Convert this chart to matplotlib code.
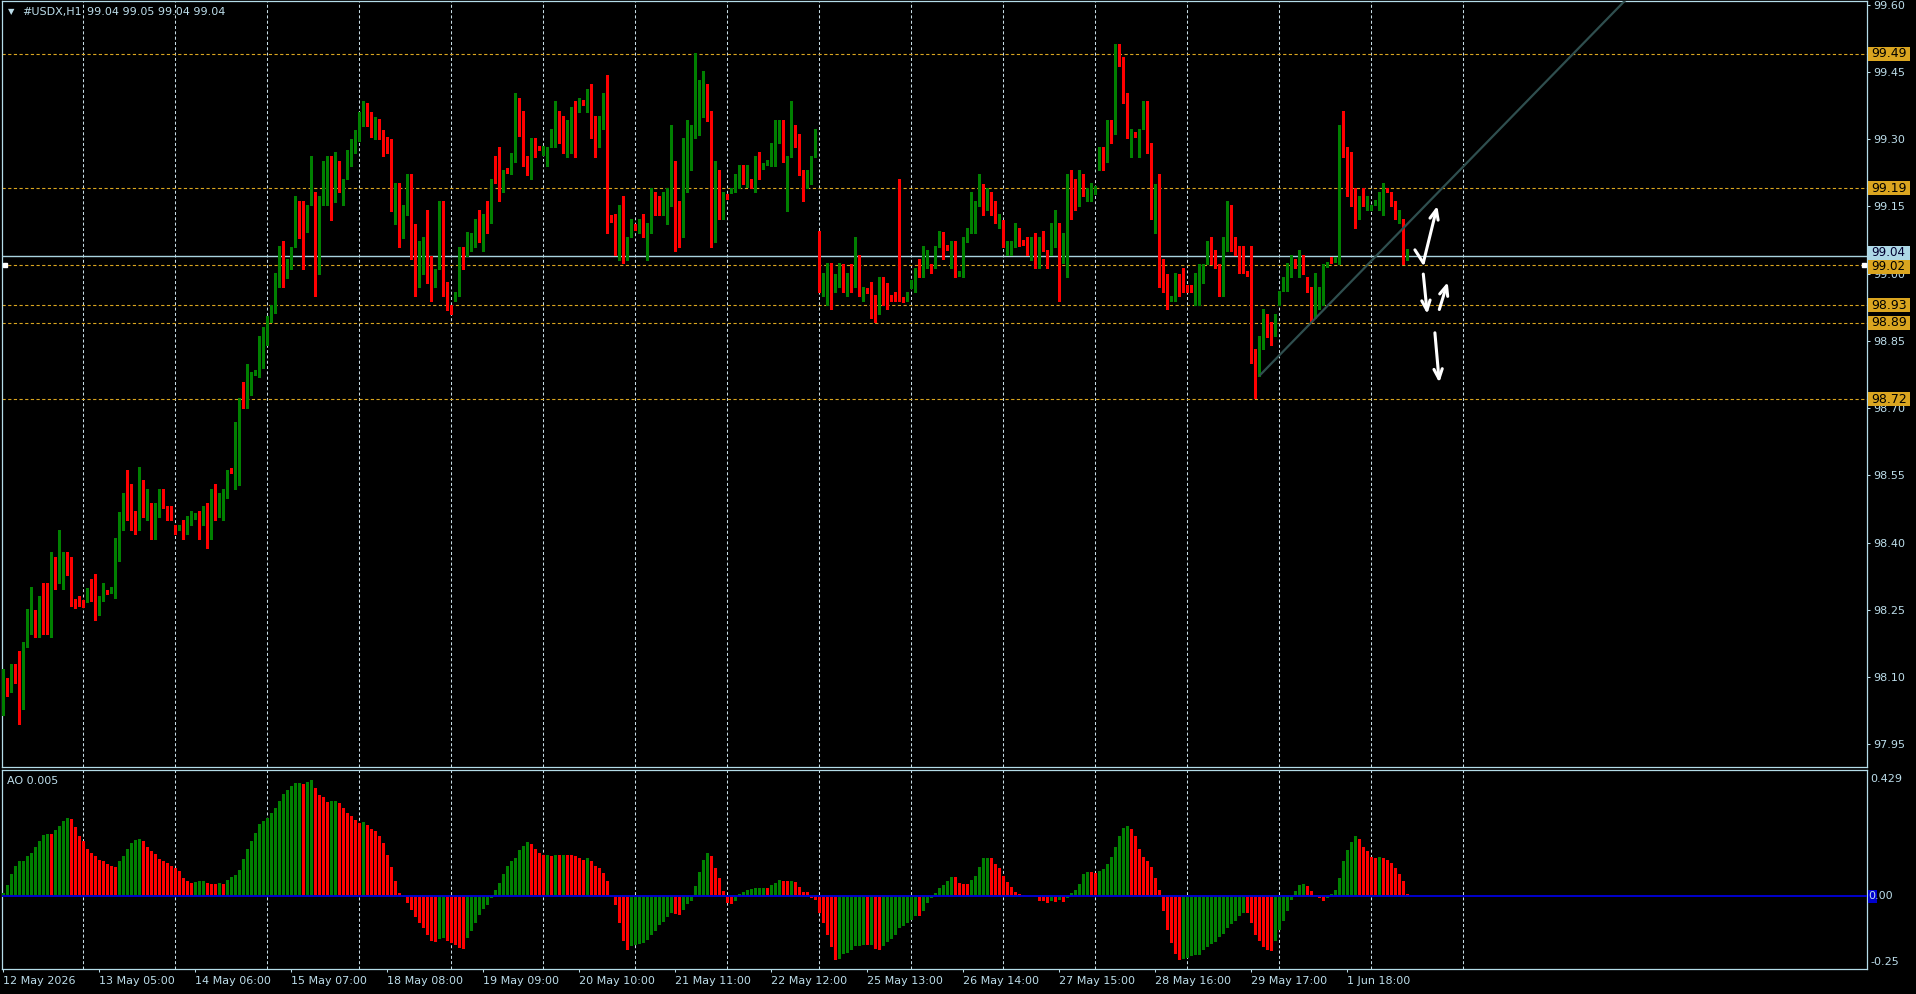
import matplotlib
matplotlib.use('Agg')
import matplotlib.pyplot as plt
import matplotlib.transforms as mtransforms
from matplotlib.patches import Rectangle
import numpy as np

plt.rcParams['font.family'] = ['DejaVu Sans']

# ---------------- data (hourly #USDX bars) ----------------
opens = [
    98.036, 98.088, 98.078, 98.129, 98.119, 98.057, 98.189, 98.218, 98.249, 98.229,
    98.269, 98.249, 98.210, 98.349, 98.317, 98.346, 98.368, 98.340, 98.269, 98.269,
    98.269, 98.277, 98.291, 98.269, 98.248, 98.278, 98.291, 98.292, 98.298, 98.400,
    98.478, 98.501, 98.489, 98.459, 98.439, 98.530, 98.478, 98.481, 98.468, 98.468,
    98.510, 98.481, 98.481, 98.440, 98.429, 98.429, 98.429, 98.450, 98.460, 98.459,
    98.450, 98.470, 98.408, 98.501, 98.468, 98.489, 98.510, 98.561, 98.561, 98.619,
    98.722, 98.720, 98.740, 98.780, 98.780, 98.790, 98.850, 98.900, 98.930, 98.970,
    99.059, 98.999, 99.020, 99.071, 99.162, 99.142, 99.092, 99.160, 99.172, 99.011,
    99.160, 99.200, 99.230, 99.172, 99.222, 99.201, 99.220, 99.250, 99.285, 99.305,
    99.340, 99.370, 99.345, 99.318, 99.340, 99.310, 99.300, 99.290, 99.160, 99.172,
    99.079, 99.139, 99.211, 99.100, 98.991, 99.011, 99.082, 99.011, 98.991, 99.020,
    99.152, 98.981, 98.930, 98.939, 98.949, 99.059, 99.051, 99.062, 99.080, 99.101,
    99.080, 99.133, 99.120, 99.222, 99.222, 99.200, 99.231, 99.231, 99.261, 99.363,
    99.322, 99.242, 99.220, 99.292, 99.280, 99.270, 99.241, 99.291, 99.329, 99.343,
    99.343, 99.282, 99.329, 99.363, 99.361, 99.382, 99.381, 99.423, 99.312, 99.291,
    99.350, 99.384, 99.125, 99.121, 99.101, 99.153, 99.051, 99.091, 99.105, 99.091,
    99.121, 99.071, 99.101, 99.173, 99.153, 99.131, 99.151, 99.151, 99.251, 99.153,
    99.111, 99.240, 99.291, 99.329, 99.350, 99.350, 99.384, 99.352, 99.101, 99.222,
    99.131, 99.172, 99.185, 99.181, 99.200, 99.231, 99.210, 99.210, 99.200, 99.251,
    99.240, 99.248, 99.250, 99.261, 99.309, 99.332, 99.250, 99.270, 99.322, 99.302,
    99.210, 99.190, 99.200, 99.270, 99.094, 98.971, 98.999, 98.999, 98.980, 98.992,
    99.021, 98.960, 98.999, 98.992, 99.021, 98.940, 98.962, 98.971, 98.940, 98.910,
    98.980, 98.971, 98.946, 98.951, 98.951, 98.942, 98.940, 98.971, 98.960, 98.999,
    98.999, 99.021, 99.021, 99.021, 99.071, 99.092, 99.058, 99.023, 99.062, 99.000,
    98.999, 99.081, 99.101, 99.142, 99.161, 99.190, 99.162, 99.173, 99.153, 99.112,
    99.115, 99.053, 99.062, 99.060, 99.101, 99.070, 99.073, 99.042, 99.073, 99.032,
    99.091, 99.053, 99.051, 99.081, 99.112, 99.051, 99.051, 99.222, 99.181, 99.161,
    99.201, 99.172, 99.172, 99.181, 99.240, 99.262, 99.261, 99.332, 99.322, 99.503,
    99.463, 99.391, 99.302, 99.310, 99.291, 99.322, 99.371, 99.271, 99.131, 99.201,
    99.021, 98.999, 98.940, 98.960, 98.999, 98.999, 98.971, 98.971, 98.951, 98.980,
    98.999, 99.021, 99.073, 99.053, 99.021, 98.960, 99.051, 99.153, 99.073, 99.042,
    99.012, 99.000, 98.999, 98.831, 98.772, 98.831, 98.911, 98.870, 98.870, 98.929,
    98.971, 98.992, 98.999, 99.021, 99.023, 99.032, 98.992, 98.971, 98.900, 98.951,
    98.940, 99.020, 99.030, 99.032, 99.032, 99.332, 99.261, 99.201, 99.162, 99.131,
    99.181, 99.151, 99.142, 99.158, 99.151, 99.172, 99.190, 99.173, 99.162, 99.121,
    99.121, 99.035,
]
highs = [
    98.119, 98.098, 98.129, 98.129, 98.158, 98.178, 98.251, 98.301, 98.249, 98.280,
    98.311, 98.311, 98.379, 98.368, 98.429, 98.379, 98.379, 98.368, 98.275, 98.280,
    98.272, 98.299, 98.319, 98.330, 98.280, 98.311, 98.295, 98.300, 98.410, 98.468,
    98.510, 98.561, 98.530, 98.470, 98.569, 98.540, 98.520, 98.489, 98.489, 98.520,
    98.520, 98.481, 98.481, 98.440, 98.440, 98.450, 98.459, 98.470, 98.466, 98.470,
    98.481, 98.489, 98.520, 98.530, 98.510, 98.520, 98.561, 98.566, 98.668, 98.722,
    98.759, 98.799, 98.780, 98.786, 98.860, 98.881, 98.905, 98.930, 99.001, 99.061,
    99.073, 99.032, 99.059, 99.172, 99.162, 99.162, 99.152, 99.263, 99.181, 99.172,
    99.251, 99.263, 99.263, 99.272, 99.251, 99.211, 99.276, 99.300, 99.320, 99.360,
    99.385, 99.380, 99.360, 99.350, 99.345, 99.320, 99.305, 99.300, 99.201, 99.201,
    99.152, 99.222, 99.222, 99.110, 99.073, 99.082, 99.142, 99.040, 99.011, 99.162,
    99.162, 98.981, 98.930, 98.960, 99.059, 99.059, 99.092, 99.090, 99.121, 99.142,
    99.133, 99.161, 99.210, 99.262, 99.282, 99.231, 99.236, 99.268, 99.402, 99.391,
    99.363, 99.262, 99.302, 99.302, 99.285, 99.285, 99.282, 99.322, 99.384, 99.363,
    99.352, 99.343, 99.371, 99.384, 99.391, 99.388, 99.411, 99.423, 99.352, 99.352,
    99.402, 99.443, 99.130, 99.133, 99.153, 99.173, 99.081, 99.121, 99.110, 99.121,
    99.133, 99.112, 99.190, 99.181, 99.173, 99.181, 99.190, 99.332, 99.251, 99.162,
    99.302, 99.343, 99.332, 99.492, 99.432, 99.452, 99.423, 99.363, 99.251, 99.231,
    99.181, 99.178, 99.192, 99.222, 99.242, 99.242, 99.242, 99.210, 99.262, 99.272,
    99.246, 99.254, 99.291, 99.343, 99.343, 99.343, 99.262, 99.384, 99.332, 99.312,
    99.231, 99.231, 99.262, 99.322, 99.094, 99.001, 99.023, 99.023, 98.999, 99.023,
    99.021, 99.001, 99.021, 99.081, 99.042, 98.971, 98.968, 98.982, 98.952, 98.992,
    98.992, 98.980, 98.952, 98.960, 99.210, 98.948, 98.960, 98.985, 99.012, 99.032,
    99.062, 99.053, 99.021, 99.062, 99.094, 99.092, 99.064, 99.073, 99.073, 99.006,
    99.081, 99.101, 99.181, 99.162, 99.222, 99.200, 99.190, 99.181, 99.162, 99.133,
    99.120, 99.073, 99.073, 99.112, 99.101, 99.076, 99.081, 99.081, 99.091, 99.081,
    99.094, 99.053, 99.112, 99.142, 99.112, 99.091, 99.222, 99.231, 99.210, 99.231,
    99.222, 99.190, 99.201, 99.195, 99.282, 99.282, 99.343, 99.343, 99.512, 99.512,
    99.483, 99.402, 99.322, 99.316, 99.322, 99.384, 99.384, 99.291, 99.200, 99.222,
    99.032, 98.999, 98.951, 99.001, 98.999, 99.012, 98.975, 98.975, 99.001, 99.021,
    99.021, 99.073, 99.081, 99.053, 99.021, 99.081, 99.162, 99.153, 99.081, 99.062,
    99.062, 99.006, 99.062, 98.831, 98.861, 98.920, 98.911, 98.891, 98.911, 98.961,
    98.992, 99.023, 99.042, 99.032, 99.053, 99.042, 98.992, 98.971, 99.001, 98.971,
    99.021, 99.026, 99.036, 99.038, 99.332, 99.363, 99.282, 99.271, 99.190, 99.173,
    99.190, 99.173, 99.153, 99.164, 99.181, 99.201, 99.190, 99.181, 99.162, 99.142,
    99.121, 99.055,
]
lows = [
    98.016, 98.057, 98.068, 98.088, 97.996, 98.028, 98.168, 98.197, 98.189, 98.189,
    98.197, 98.197, 98.189, 98.297, 98.309, 98.297, 98.327, 98.258, 98.255, 98.258,
    98.256, 98.268, 98.269, 98.228, 98.239, 98.269, 98.285, 98.288, 98.277, 98.358,
    98.429, 98.450, 98.429, 98.419, 98.429, 98.458, 98.450, 98.408, 98.408, 98.458,
    98.478, 98.450, 98.450, 98.419, 98.429, 98.408, 98.419, 98.440, 98.452, 98.408,
    98.440, 98.387, 98.408, 98.450, 98.458, 98.450, 98.499, 98.555, 98.520, 98.528,
    98.701, 98.701, 98.730, 98.774, 98.770, 98.790, 98.840, 98.891, 98.912, 98.970,
    98.970, 98.991, 99.011, 99.059, 99.079, 99.011, 99.092, 99.152, 98.949, 98.999,
    99.152, 99.152, 99.120, 99.160, 99.181, 99.152, 99.210, 99.240, 99.270, 99.295,
    99.330, 99.330, 99.305, 99.300, 99.300, 99.262, 99.268, 99.140, 99.110, 99.059,
    99.079, 99.131, 99.032, 98.949, 98.970, 98.999, 98.980, 98.939, 98.970, 99.011,
    98.949, 98.919, 98.911, 98.939, 98.949, 99.011, 99.040, 99.050, 99.060, 99.071,
    99.051, 99.091, 99.112, 99.201, 99.161, 99.181, 99.225, 99.222, 99.250, 99.307,
    99.240, 99.220, 99.210, 99.261, 99.275, 99.265, 99.241, 99.282, 99.282, 99.291,
    99.270, 99.261, 99.270, 99.261, 99.361, 99.376, 99.361, 99.302, 99.261, 99.282,
    99.322, 99.091, 99.115, 99.041, 99.030, 99.023, 99.030, 99.081, 99.098, 99.091,
    99.081, 99.030, 99.091, 99.131, 99.131, 99.131, 99.111, 99.151, 99.051, 99.060,
    99.081, 99.181, 99.231, 99.302, 99.309, 99.350, 99.341, 99.060, 99.071, 99.121,
    99.121, 99.166, 99.180, 99.181, 99.190, 99.200, 99.194, 99.190, 99.181, 99.210,
    99.234, 99.242, 99.240, 99.240, 99.291, 99.250, 99.140, 99.261, 99.282, 99.220,
    99.161, 99.190, 99.200, 99.261, 98.958, 98.950, 98.929, 98.920, 98.960, 98.971,
    98.960, 98.950, 98.960, 98.971, 98.950, 98.940, 98.956, 98.900, 98.891, 98.910,
    98.929, 98.920, 98.940, 98.940, 98.940, 98.936, 98.940, 98.968, 98.960, 98.992,
    98.992, 99.012, 99.001, 99.012, 99.060, 99.032, 99.052, 99.012, 98.992, 98.994,
    98.992, 99.071, 99.091, 99.091, 99.151, 99.131, 99.142, 99.131, 99.112, 99.101,
    99.060, 99.042, 99.042, 99.060, 99.062, 99.064, 99.042, 99.030, 99.012, 99.012,
    99.051, 99.012, 99.042, 99.060, 98.940, 99.023, 98.992, 99.121, 99.142, 99.151,
    99.172, 99.161, 99.161, 99.178, 99.231, 99.231, 99.250, 99.291, 99.312, 99.462,
    99.381, 99.302, 99.261, 99.304, 99.261, 99.322, 99.270, 99.121, 99.091, 98.971,
    98.960, 98.920, 98.940, 98.940, 98.951, 98.960, 98.958, 98.958, 98.929, 98.929,
    98.980, 99.021, 99.021, 99.012, 98.951, 98.951, 99.051, 99.051, 99.042, 99.001,
    99.001, 98.994, 98.800, 98.722, 98.772, 98.831, 98.859, 98.841, 98.861, 98.929,
    98.961, 98.961, 98.992, 99.012, 98.992, 98.999, 98.960, 98.891, 98.900, 98.920,
    98.929, 99.014, 99.024, 99.026, 99.021, 99.261, 99.172, 99.151, 99.101, 99.121,
    99.151, 99.142, 99.142, 99.152, 99.142, 99.131, 99.181, 99.151, 99.121, 99.112,
    99.021, 99.030,
]
closes = [
    98.078, 98.068, 98.119, 98.109, 98.068, 98.178, 98.230, 98.239, 98.218, 98.259,
    98.239, 98.218, 98.360, 98.309, 98.340, 98.379, 98.327, 98.269, 98.262, 98.258,
    98.258, 98.299, 98.278, 98.258, 98.269, 98.291, 98.290, 98.296, 98.389, 98.468,
    98.489, 98.478, 98.450, 98.447, 98.540, 98.468, 98.489, 98.459, 98.481, 98.520,
    98.489, 98.468, 98.450, 98.419, 98.440, 98.419, 98.459, 98.459, 98.462, 98.440,
    98.481, 98.419, 98.510, 98.459, 98.501, 98.501, 98.561, 98.560, 98.611, 98.710,
    98.707, 98.751, 98.780, 98.782, 98.840, 98.850, 98.900, 98.920, 98.981, 99.053,
    99.011, 99.011, 99.059, 99.172, 99.131, 99.100, 99.152, 99.181, 98.999, 99.152,
    99.191, 99.241, 99.181, 99.230, 99.189, 99.211, 99.251, 99.285, 99.310, 99.345,
    99.370, 99.345, 99.315, 99.340, 99.310, 99.300, 99.272, 99.152, 99.181, 99.092,
    99.152, 99.222, 99.092, 98.999, 99.020, 99.071, 99.020, 98.999, 99.011, 99.162,
    98.991, 98.949, 98.919, 98.960, 99.053, 99.040, 99.059, 99.078, 99.114, 99.071,
    99.121, 99.112, 99.210, 99.210, 99.189, 99.231, 99.229, 99.251, 99.371, 99.309,
    99.250, 99.230, 99.302, 99.282, 99.279, 99.282, 99.282, 99.322, 99.352, 99.329,
    99.291, 99.343, 99.352, 99.350, 99.384, 99.380, 99.411, 99.322, 99.302, 99.343,
    99.391, 99.140, 99.122, 99.091, 99.142, 99.060, 99.081, 99.112, 99.102, 99.112,
    99.081, 99.112, 99.181, 99.161, 99.140, 99.142, 99.162, 99.242, 99.140, 99.101,
    99.302, 99.302, 99.322, 99.363, 99.363, 99.391, 99.341, 99.112, 99.231, 99.140,
    99.173, 99.170, 99.188, 99.211, 99.242, 99.220, 99.222, 99.190, 99.242, 99.240,
    99.242, 99.250, 99.272, 99.322, 99.322, 99.261, 99.262, 99.312, 99.291, 99.220,
    99.200, 99.210, 99.262, 99.291, 98.978, 98.993, 99.012, 98.992, 98.999, 99.012,
    98.971, 98.992, 98.980, 99.012, 98.950, 98.971, 98.960, 98.950, 98.920, 98.992,
    98.960, 98.950, 98.944, 98.940, 98.940, 98.940, 98.951, 98.981, 99.012, 98.992,
    99.032, 99.032, 99.012, 99.062, 99.081, 99.060, 99.056, 99.053, 99.001, 99.002,
    99.073, 99.094, 99.133, 99.153, 99.201, 99.172, 99.181, 99.142, 99.121, 99.121,
    99.070, 99.073, 99.073, 99.112, 99.071, 99.068, 99.053, 99.081, 99.042, 99.081,
    99.060, 99.042, 99.091, 99.121, 99.051, 99.062, 99.210, 99.173, 99.153, 99.190,
    99.181, 99.181, 99.201, 99.190, 99.271, 99.251, 99.343, 99.309, 99.512, 99.471,
    99.402, 99.309, 99.312, 99.308, 99.312, 99.384, 99.282, 99.140, 99.192, 99.030,
    99.012, 98.929, 98.951, 98.992, 98.992, 98.980, 98.960, 98.960, 98.992, 99.012,
    99.012, 99.062, 99.053, 99.032, 98.951, 99.042, 99.142, 99.060, 99.051, 99.001,
    99.001, 98.998, 98.818, 98.779, 98.821, 98.900, 98.880, 98.859, 98.911, 98.961,
    98.980, 99.012, 99.032, 99.012, 99.042, 98.999, 98.980, 98.891, 98.961, 98.961,
    99.012, 99.022, 99.030, 99.034, 99.322, 99.270, 99.210, 99.151, 99.121, 99.173,
    99.161, 99.173, 99.153, 99.160, 99.181, 99.181, 99.181, 99.151, 99.131, 99.133,
    99.030, 99.043,
]
ao_values = [
    0.009, 0.037, 0.075, 0.102, 0.117, 0.118, 0.134, 0.145, 0.166, 0.188,
    0.207, 0.211, 0.210, 0.224, 0.238, 0.253, 0.264, 0.261, 0.234, 0.202,
    0.185, 0.159, 0.145, 0.134, 0.122, 0.117, 0.109, 0.100, 0.099, 0.117,
    0.136, 0.159, 0.181, 0.190, 0.193, 0.185, 0.166, 0.154, 0.143, 0.125,
    0.120, 0.111, 0.102, 0.094, 0.083, 0.060, 0.052, 0.045, 0.048, 0.050,
    0.052, 0.045, 0.041, 0.040, 0.045, 0.041, 0.054, 0.063, 0.071, 0.088,
    0.125, 0.159, 0.188, 0.215, 0.245, 0.256, 0.264, 0.281, 0.298, 0.324,
    0.347, 0.361, 0.372, 0.383, 0.385, 0.381, 0.386, 0.395, 0.366, 0.342,
    0.336, 0.318, 0.321, 0.324, 0.316, 0.298, 0.281, 0.270, 0.259, 0.246,
    0.250, 0.240, 0.226, 0.219, 0.202, 0.181, 0.140, 0.098, 0.050, 0.011,
    -0.005, -0.023, -0.048, -0.073, -0.091, -0.110, -0.133, -0.155, -0.158, -0.147,
    -0.144, -0.155, -0.161, -0.167, -0.178, -0.180, -0.145, -0.121, -0.091, -0.065,
    -0.045, -0.031, -0.006, 0.020, 0.043, 0.073, 0.102, 0.117, 0.128, 0.157,
    0.170, 0.184, 0.175, 0.160, 0.145, 0.138, 0.140, 0.137, 0.139, 0.138,
    0.140, 0.139, 0.138, 0.137, 0.127, 0.122, 0.127, 0.118, 0.103, 0.095,
    0.077, 0.050, -0.005, -0.030, -0.092, -0.155, -0.185, -0.170, -0.168, -0.165,
    -0.160, -0.150, -0.135, -0.120, -0.100, -0.090, -0.072, -0.060, -0.062, -0.065,
    -0.048, -0.027, -0.019, 0.032, 0.082, 0.122, 0.145, 0.136, 0.095, 0.061,
    0.017, -0.023, -0.027, -0.016, 0.005, 0.014, 0.020, 0.024, 0.025, 0.027,
    0.028, 0.026, 0.036, 0.044, 0.054, 0.050, 0.049, 0.052, 0.048, 0.031,
    0.014, 0.013, -0.006, -0.015, -0.060, -0.094, -0.132, -0.173, -0.220, -0.214,
    -0.199, -0.194, -0.184, -0.172, -0.170, -0.168, -0.169, -0.166, -0.180, -0.183,
    -0.171, -0.158, -0.148, -0.135, -0.108, -0.102, -0.092, -0.082, -0.068, -0.070,
    -0.050, -0.026, -0.006, 0.010, 0.025, 0.037, 0.052, 0.065, 0.064, 0.044,
    0.040, 0.039, 0.054, 0.066, 0.097, 0.128, 0.129, 0.128, 0.109, 0.095,
    0.069, 0.047, 0.029, 0.014, 0.007, 0.002, -0.001, -0.002, -0.005, -0.017,
    -0.019, -0.025, -0.018, -0.020, -0.013, -0.020, -0.008, 0.008, 0.020, 0.040,
    0.075, 0.082, 0.080, 0.078, 0.085, 0.092, 0.109, 0.131, 0.166, 0.205,
    0.232, 0.238, 0.228, 0.204, 0.160, 0.133, 0.119, 0.098, 0.061, 0.020,
    -0.051, -0.115, -0.162, -0.198, -0.218, -0.214, -0.213, -0.204, -0.203, -0.201,
    -0.186, -0.175, -0.165, -0.156, -0.141, -0.130, -0.109, -0.096, -0.085, -0.069,
    -0.058, -0.060, -0.093, -0.132, -0.154, -0.175, -0.186, -0.188, -0.155, -0.115,
    -0.085, -0.051, -0.015, 0.018, 0.037, 0.039, 0.034, 0.017, 0.003, -0.007,
    -0.019, -0.008, 0.005, 0.020, 0.061, 0.119, 0.156, 0.184, 0.204, 0.194,
    0.167, 0.153, 0.131, 0.130, 0.132, 0.127, 0.122, 0.110, 0.095, 0.075,
    0.050, 0.005,
]

time_label_bars = [0, 24, 48, 72, 96, 120, 144, 168, 192, 216, 240, 264, 288, 312, 336]
time_labels = ['12 May 2026', '13 May 05:00', '14 May 06:00', '15 May 07:00',
               '18 May 08:00', '19 May 09:00', '20 May 10:00', '21 May 11:00',
               '22 May 12:00', '25 May 13:00', '26 May 14:00', '27 May 15:00',
               '28 May 16:00', '29 May 17:00', '1 Jun 18:00']
day_start_bars = [20, 43, 66, 89, 112, 135, 158, 181, 204, 227, 250, 273, 296,
                  319, 342, 365]
price_ticks = [99.60, 99.45, 99.30, 99.15, 99.00, 98.85, 98.70, 98.55, 98.40,
               98.25, 98.10, 97.95]
level_prices = [99.49, 99.19, 98.93, 98.89, 98.72, 99.02]
current_price = 99.04
trend_anchor_1 = (314, 98.772)
trend_anchor_2 = (327, 98.891)
ao_scale_labels = ['0.429', '0.00', '-0.25']
header_symbol = '#USDX,H1'
header_quote = '99.04 99.05 99.04 99.04'
ao_header = 'AO 0.005'

assert len(opens) == len(highs) == len(lows) == len(closes) == len(ao_values)

# ---------------- styling ----------------
W, H = 1916, 994
BG = '#000000'
BORDER = '#B4DCE8'
TXT = '#BCDDEA'
GRID = '#C8DDE6'
GOLD = '#DAA520'
BULL = '#008000'
BEAR = '#FF0000'
DASH = (0, (2.9, 2.2))

fig = plt.figure(figsize=(W / 100, H / 100), dpi=100, facecolor=BG)


def px_axes(x0, y0, x1, y1):
    return fig.add_axes([x0 / W, 1 - y1 / H, (x1 - x0) / W, (y1 - y0) / H])


def ftext(x, y, s, **kw):
    kw.setdefault('fontsize', 8)
    kw.setdefault('color', TXT)
    kw.setdefault('va', 'center')
    kw.setdefault('ha', 'left')
    return fig.text(x / W, 1 - y / H, s, **kw)


ax = px_axes(2, 1, 1866.5, 767.3)
ax2 = px_axes(2, 769.7, 1866.5, 969.3)
XLIM = (-0.325, 465.8)
for a in (ax, ax2):
    a.set_facecolor(BG)
    for sp in a.spines.values():
        sp.set_color(BORDER)
        sp.set_linewidth(0.9)
    a.set_xlim(*XLIM)
    for g in day_start_bars:
        a.axvline(g, color=GRID, lw=0.75, ls=DASH, zorder=1)

ax.set_ylim(97.899, 99.608)
ax2.set_ylim(-0.25, 0.429)

# ---------------- candles ----------------
o = np.array(opens)
h = np.array(highs)
l = np.array(lows)
c = np.array(closes)
x = np.arange(len(c))
up = c > o
cols = np.where(up, BULL, BEAR)
wick_lo = np.minimum(l, np.minimum(o, c))
wick_hi = np.maximum(h, np.maximum(o, c))
ax.vlines(x, wick_lo, wick_hi, colors=cols, linewidth=0.8, antialiased=False, zorder=4)
body_h = np.maximum(np.abs(c - o), 0.0023)
ax.bar(x, body_h, bottom=np.minimum(o, c), width=0.8, color=cols, linewidth=0,
       antialiased=False, zorder=5)

# horizontal levels
for lv in level_prices:
    ax.axhline(lv, color=GOLD, lw=0.8, ls=DASH, zorder=2)
ax.axhline(current_price, color='#A9D3DF', lw=1.0, zorder=3)

# trend line (ray to the right)
slope = (trend_anchor_2[1] - trend_anchor_1[1]) / (trend_anchor_2[0] - trend_anchor_1[0])
x_far = XLIM[1]
ax.plot([trend_anchor_1[0], x_far],
        [trend_anchor_1[1], trend_anchor_1[1] + slope * (x_far - trend_anchor_1[0])],
        color='#2F4F4F', lw=1.6, solid_capstyle='butt', zorder=6)

# hand-drawn white arrows (annotation positions in bar/price coords)
arrow_kw = dict(arrowstyle='->,head_length=0.7,head_width=0.3', color='white', lw=2.2,
                shrinkA=0, shrinkB=0)
ax.plot([352.9, 355.0], [99.053, 99.024], color='white', lw=2.2, solid_capstyle='round', zorder=7)
ax.annotate('', xy=(358.5, 99.151), xytext=(355.0, 99.024), arrowprops=arrow_kw, zorder=7)
ax.annotate('', xy=(356.0, 98.910), xytext=(355.0, 98.999), arrowprops=arrow_kw, zorder=7)
ax.annotate('', xy=(361.1, 98.981), xytext=(359.0, 98.920), arrowprops=arrow_kw, zorder=7)
ax.annotate('', xy=(359.0, 98.757), xytext=(357.9, 98.868), arrowprops=arrow_kw, zorder=7)

# price scale
ax.yaxis.tick_right()
ax.set_yticks(price_ticks)
ax.set_yticklabels([f'{t:.2f}' for t in price_ticks])
ax.tick_params(axis='y', colors=TXT, labelsize=8, length=2.5, width=0.75, pad=2.5,
               direction='out')
ax.set_xticks([])

blend = mtransforms.blended_transform_factory(ax.transAxes, ax.transData)
axw_px = 1864.5
ppu = 766.3 / (99.608 - 97.899)
box_w = 42 / axw_px
box_h = 14 / ppu
x_box = 1 + 1.5 / axw_px
x_txt = 1 + 4.5 / axw_px


def price_box(val, fc, tc, z, shift_px=0.0, fs=9):
    yc = val + shift_px / ppu
    ax.add_patch(Rectangle((x_box, yc - box_h / 2), box_w, box_h, transform=blend,
                           facecolor=fc, edgecolor='none', clip_on=False, zorder=z))
    ax.text(x_txt, yc, f'{val:.2f}', transform=blend, fontsize=fs, color=tc,
            va='center', ha='left', clip_on=False, zorder=z + 0.5)


price_box(current_price, '#ADD8E6', '#000030', 20, shift_px=3.0, fs=8.6)
for i, lv in enumerate(level_prices):
    if lv == 99.02:
        price_box(lv, GOLD, '#000000', 22 + i, shift_px=-2.0, fs=8.6)
    else:
        price_box(lv, GOLD, '#000000', 22 + i)

# small white markers on the 99.02 level
ax.plot([0.0017, 0.9985], [99.02, 99.02], transform=blend, ls='none', marker='s',
        ms=2.4, color='white', clip_on=False, zorder=8)

# ---------------- AO sub-window ----------------
ao = np.array(ao_values)
ao_up = np.r_[True, ao[1:] > ao[:-1]]
ax2.bar(x, ao, width=0.74, color=np.where(ao_up, BULL, BEAR), linewidth=0,
        antialiased=False, zorder=3)
ax2.axhline(0, color='#0000CD', lw=1.4, zorder=4)
ax2.set_yticks([])
ax2.set_xticks(time_label_bars)
ax2.set_xticklabels(time_labels, ha='left')
ax2.tick_params(axis='x', colors=TXT, labelsize=8, length=2.5, width=0.75, pad=2.2,
                direction='out')

ftext(1870, 778.7, ao_scale_labels[0])
fig.patches.append(Rectangle((1867.7 / W, 1 - 902.7 / H), 9.3 / W, 12.7 / H,
                             transform=fig.transFigure, facecolor='#0000CD',
                             edgecolor='none', zorder=5))
ftext(1868.6, 896, ao_scale_labels[1], zorder=6)
ftext(1870, 962.3, ao_scale_labels[2])
ftext(7, 781, ao_header)

# header
ftext(8, 11.8, '\u25BC', fontsize=6)
ftext(22, 12.3, header_symbol)
ftext(87, 12.3, header_quote)

fig.savefig('out.png', dpi=100, facecolor=BG)
